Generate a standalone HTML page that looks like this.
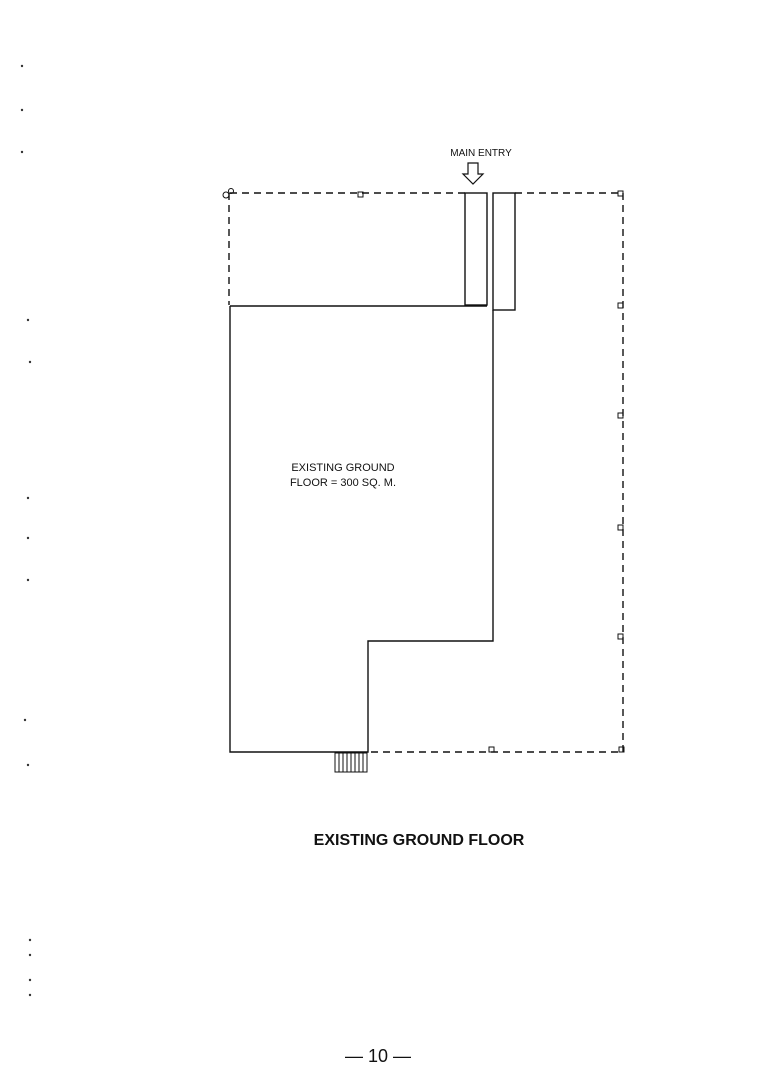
<!DOCTYPE html>
<html><head><style>
body{margin:0;background:#fff;width:758px;height:1080px;overflow:hidden}
text{font-family:"Liberation Sans",sans-serif;fill:#111}
</style></head><body>
<svg width="758" height="1080" viewBox="0 0 758 1080" xmlns="http://www.w3.org/2000/svg">
<g stroke="#111" fill="none" stroke-width="1.4">
<path d="M230 306 L487 306 M230 306 L230 752 L368 752 L368 641 L493 641 L493 310"/>
<rect x="465" y="193" width="22" height="112"/>
<rect x="493" y="193" width="22" height="117"/>
<path d="M230 193 L465 193 M515 193 L623 193 L623 752 L368 752 M229 193 L229 305" stroke-dasharray="7,5"/>
<path d="M468 163 L478 163 L478 174 L483 174 L473 184 L463 174 L468 174 Z" stroke-width="1.2"/>
<g stroke-width="1">
<rect x="358" y="192" width="5" height="5"/><rect x="618" y="191" width="5" height="5"/>
<rect x="618" y="303" width="5" height="5"/><rect x="618" y="413" width="5" height="5"/>
<rect x="618" y="525" width="5" height="5"/><rect x="618" y="634" width="5" height="5"/>
<rect x="489" y="747" width="5" height="5"/><rect x="619" y="747" width="5" height="5"/>
<circle cx="226" cy="195" r="3"/><circle cx="231" cy="191" r="2.5"/>
<rect x="335" y="753" width="32" height="19"/>
<path d="M339 753V772M343 753V772M347 753V772M351 753V772M355 753V772M359 753V772M363 753V772"/>
</g>
</g>
<text x="481" y="156" font-size="10" text-anchor="middle">MAIN ENTRY</text>
<text x="343" y="471" font-size="11" text-anchor="middle">EXISTING GROUND</text>
<text x="343" y="486" font-size="11" text-anchor="middle">FLOOR = 300 SQ. M.</text>
<text x="419" y="845" font-size="16" text-anchor="middle" font-weight="bold" fill="#222">EXISTING GROUND FLOOR</text>
<text x="378" y="1062" font-size="18" text-anchor="middle" font-family="Liberation Serif">— 10 —</text>
<g fill="#333">
<circle cx="22" cy="66" r="1.2"/><circle cx="22" cy="110" r="1.2"/><circle cx="22" cy="152" r="1.2"/>
<circle cx="28" cy="320" r="1.2"/><circle cx="30" cy="362" r="1.2"/><circle cx="28" cy="498" r="1.2"/>
<circle cx="28" cy="538" r="1.2"/><circle cx="28" cy="580" r="1.2"/><circle cx="25" cy="720" r="1.2"/>
<circle cx="28" cy="765" r="1.2"/><circle cx="30" cy="940" r="1.2"/><circle cx="30" cy="955" r="1.2"/>
<circle cx="30" cy="980" r="1.2"/><circle cx="30" cy="995" r="1.2"/>
</g>
</svg>
</body></html>
